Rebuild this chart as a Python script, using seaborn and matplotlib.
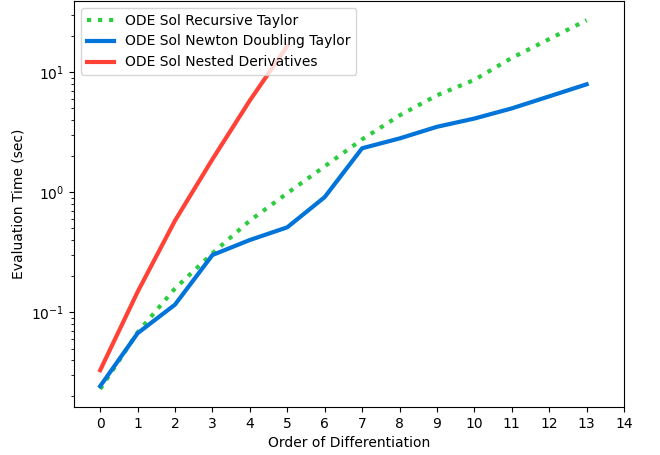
import pandas as pd
import matplotlib
matplotlib.use("Agg")
import matplotlib.pyplot as plt
import seaborn as sns

# timings (seconds)
order = list(range(14))
recursive_taylor = [0.023, 0.068, 0.158, 0.31, 0.58, 0.98, 1.64, 2.75, 4.35, 6.4, 8.6, 13.1, 18.8, 27.0]
newton_doubling = [0.0243, 0.067, 0.116, 0.30, 0.40, 0.51, 0.91, 2.32, 2.8, 3.5, 4.1, 4.98, 6.27, 7.9]
nested_order = [0, 1, 2, 3, 4, 5]
nested_derivs = [0.033, 0.148, 0.58, 1.88, 5.8, 16.4]

fig = plt.figure(figsize=(6.6, 4.55), dpi=100)
ax = fig.add_axes([74 / 660, 48 / 455, 550 / 660, 406 / 455])

sns.lineplot(x=order, y=recursive_taylor, ax=ax, color="#2ECC40", linewidth=3,
             linestyle=":", label="ODE Sol Recursive Taylor")
sns.lineplot(x=order, y=newton_doubling, ax=ax, color="#0074D9", linewidth=3,
             label="ODE Sol Newton Doubling Taylor")
sns.lineplot(x=nested_order, y=nested_derivs, ax=ax, color="#FF4136", linewidth=3,
             label="ODE Sol Nested Derivatives")

ax.set_yscale("log")
ax.set_xticks(range(15))
ax.set_xlim(-0.7, 14)
ax.set_ylim(0.0163, 39)
ax.set_xlabel("Order of Differentiation")
ax.set_ylabel("Evaluation Time (sec)")
ax.legend(loc="upper left")

fig.savefig("out.png", dpi=100)
